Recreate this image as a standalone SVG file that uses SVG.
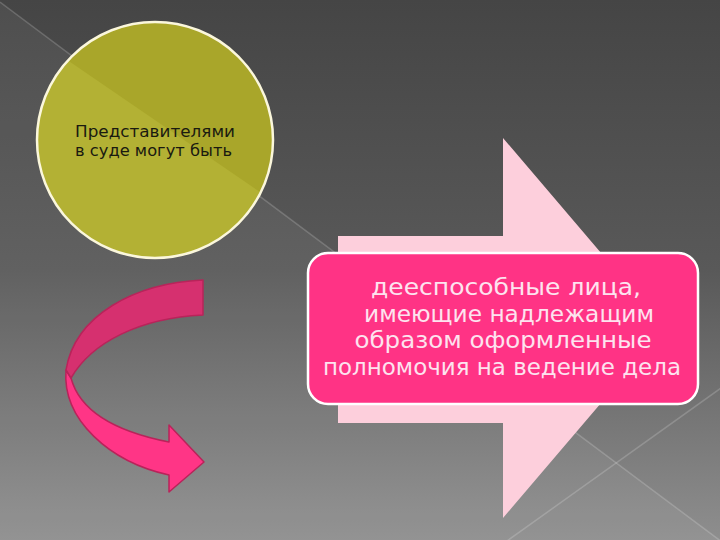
<svg xmlns="http://www.w3.org/2000/svg" width="720" height="540" viewBox="0 0 720 540">
  <defs>
    <linearGradient id="bg" x1="0" y1="0" x2="0" y2="1">
      <stop offset="0" stop-color="#454545"/>
      <stop offset="0.5" stop-color="#595959"/>
      <stop offset="1" stop-color="#8e8e8e"/>
    </linearGradient>
    <clipPath id="circleClip">
      <circle cx="155" cy="140" r="118"/>
    </clipPath>
    <style>
      .bgline { stroke: #ffffff; stroke-opacity: 0.18; stroke-width: 1.5; fill: none; }
      .ctext { font-family: "DejaVu Sans", "Liberation Sans", sans-serif; font-size: 15px; fill: #1a1a10; }
      .btext { font-family: "DejaVu Sans", "Liberation Sans", sans-serif; font-size: 23px; fill: #fde3ef; text-anchor: middle; }
      .curve { stroke: #b8245a; stroke-width: 1.5; stroke-linejoin: round; }
    </style>
  </defs>

  <g id="background">
    <rect x="0" y="0" width="720" height="540" fill="url(#bg)"/>
    <polygon points="0,2 722,542 0,542" fill="#ffffff" fill-opacity="0.05"/>
    <line class="bgline" x1="0" y1="2" x2="722" y2="542"/>
    <line class="bgline" x1="507" y1="541" x2="721" y2="388"/>
  </g>

  <g id="node-circle">
    <circle cx="155" cy="140" r="118" fill="#a9a62a"/>
    <polygon points="0,14 330,240 330,300 0,300" fill="#b3b134" clip-path="url(#circleClip)"/>
    <circle cx="155" cy="140" r="118" fill="none" stroke="#fbf7dc" stroke-width="2.5"/>
    <text class="ctext" x="75" y="137" textLength="160" lengthAdjust="spacingAndGlyphs">Представителями</text>
    <text class="ctext" x="75" y="156" textLength="157" lengthAdjust="spacingAndGlyphs">в суде могут быть</text>
  </g>

  <g id="node-big-arrow">
    <polygon points="338,236 503,236 503,138 665,328 503,518 503,423 338,423" fill="#fdcfdc"/>
  </g>

  <g id="node-box">
    <rect x="308" y="253" width="390" height="151" rx="20" ry="20" fill="#ff3385" stroke="#ffffff" stroke-width="2.5"/>
    <text class="btext" x="506" y="295" textLength="270" lengthAdjust="spacingAndGlyphs">дееспособные лица,</text>
    <text class="btext" x="509" y="322" textLength="290" lengthAdjust="spacingAndGlyphs">имеющие надлежащим</text>
    <text class="btext" x="503" y="348" textLength="297" lengthAdjust="spacingAndGlyphs">образом оформленные</text>
    <text class="btext" x="502" y="375" textLength="358" lengthAdjust="spacingAndGlyphs">полномочия на ведение дела</text>
  </g>

  <g id="connectors">
    <path class="curve" fill="#ff3586" d="M66,370 C62,420 110,462 169,475 L169,492 L204,462 L169,425 L169,442 C118,432 80,412 71,378 Z"/>
    <path class="curve" fill="#d6306f" d="M203,280 C135,283 75,315 66,370 L71,378 C92,342 140,318 203,315 Z"/>
  </g>
</svg>
